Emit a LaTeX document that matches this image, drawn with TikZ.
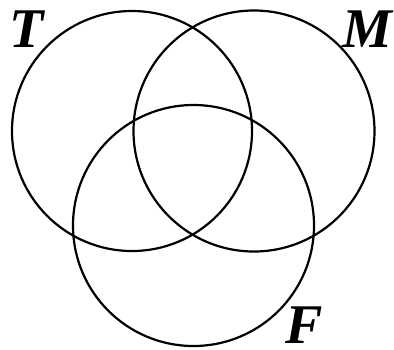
\documentclass[tikz,border=0pt]{standalone}
\usepackage{fontspec}
\setmainfont{Liberation Serif}
\begin{document}
\begin{tikzpicture}[x=1pt,y=-1pt,
  setc/.style={draw=black,line width=2.2pt},
  lab/.style={font=\fontsize{56}{62}\selectfont\bfseries\itshape,inner sep=0pt,anchor=base}]
\useasboundingbox (0,0) rectangle (394,349);
\draw[setc] (132,131) circle[radius=120];
\draw[setc] (254,131) circle[radius=120.5];
\draw[setc] (193.5,225.5) circle[radius=120.5];
\node[lab] (t) at (27,47) {T};
\node[lab] (m) at (367,47) {M};
\node[lab] (f) at (304,343) {F};
\end{tikzpicture}
\end{document}
